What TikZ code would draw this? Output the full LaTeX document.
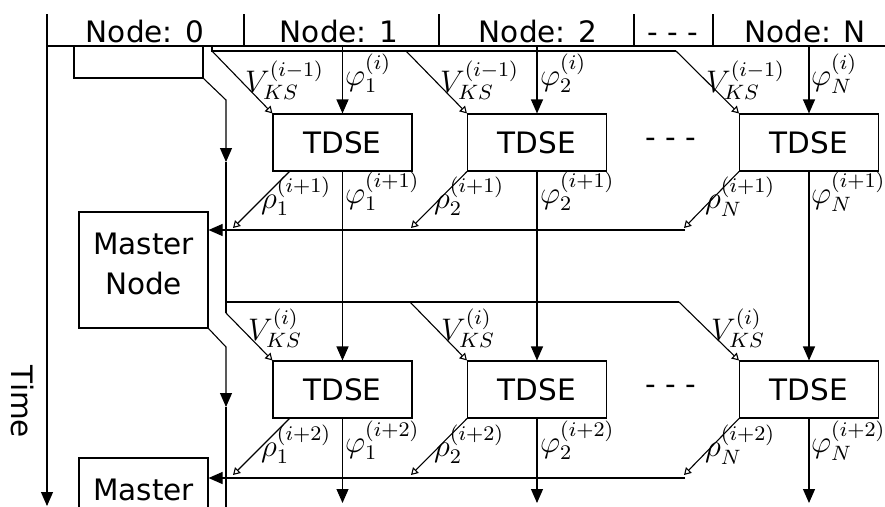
\documentclass[tikz,border=0pt]{standalone}
\usepackage[no-math]{fontspec}
\usepackage{graphicx}
\newfontfamily\dv{DejaVu Sans}
\usetikzlibrary{arrows.meta}
\newcommand{\mlab}[1]{\scalebox{2.6}{\fontsize{12}{14}\selectfont$#1$}}
\begin{document}
\begin{tikzpicture}[x=1pt,y=-1pt,
  ln/.style={line width=1.1pt},
  sans/.style={font=\dv\fontsize{29.5}{40}\selectfont},
  box/.style={draw, line width=1.1pt, sans, minimum width=139pt, minimum height=57pt, inner sep=0pt},
  mbox/.style={draw, line width=1.1pt, minimum width=129pt, minimum height=116pt, inner sep=0pt},
  lab/.style={inner sep=0pt},
  fa/.style={-{Triangle[width=12pt,length=14pt]}},
  oa/.style={-{Triangle[open,width=8pt,length=7pt]}},
]
\useasboundingbox (0,0) rectangle (885,506);
\clip (0,0) rectangle (885,506);
% time axis and header
\coordinate (tA) at (47,14);
\coordinate (tB) at (47,506);
\draw[ln,fa] (tA) -- (tB);
\node[sans, rotate=-90] (time) at (22,402) {Time};
\coordinate (hl) at (47,46);
\coordinate (hr) at (885,46);
\draw[ln] (hl) -- (hr);
\foreach \x/\n in {244/d1,439/d2,634/d3,713/d4}{
  \coordinate (\n a) at (\x,14);
  \coordinate (\n b) at (\x,46);
  \draw[ln] (\n a) -- (\n b);
}
\node[sans, anchor=base] (h0) at (145,42) {Node: 0};
\node[sans, anchor=base] (h1) at (339,42) {Node: 1};
\node[sans, anchor=base] (h2) at (538,42) {Node: 2};
\node[sans, anchor=base] (hd) at (673,42) {- - -};
\node[sans, anchor=base] (hN) at (805,42) {Node: N};
% previous master box (cut)
\coordinate (m0a) at (74,46);
\coordinate (m0b) at (74,78);
\coordinate (m0c) at (203,78);
\coordinate (m0d) at (203,46);
\draw[ln] (m0a) -- (m0b) -- (m0c) -- (m0d);
% master nodes
\node[mbox] (m1) at (143.5,270) {};
\node[sans, align=center, yshift=6pt] (m1t) at (m1.center) {Master\\Node};
\node[mbox] (m2) at (143.5,516) {};
\node[sans, align=center, yshift=6pt] (m2t) at (m2.center) {Master\\Node};
% TDSE boxes
\foreach \r/\y in {1/142.5,2/389.5}{
  \node[box] (t\r1) at (342.5,\y) {TDSE};
  \node[box] (t\r2) at (537,\y) {TDSE};
  \node[box] (t\r3) at (809,\y) {TDSE};
  \node[sans] (dots\r) at (671,\y) {- - -};
}
% phi inputs from header
\coordinate (p1) at (342.5,46);
\coordinate (p2) at (537,46);
\coordinate (p3) at (809,46);
\coordinate (q1) at (342.5,503);
\coordinate (q2) at (537,503);
\coordinate (q3) at (809,503);
\foreach \c in {1,2,3}{
  \draw[ln,fa] (p\c) -- (t1\c.north);
  \draw[ln,fa] (t1\c.south) -- (t2\c.north);
  \draw[ln,fa] (t2\c.south) -- (q\c);
}
% V distribution row 1
\coordinate (v0) at (212,46);
\coordinate (v1) at (212,51);
\coordinate (v2) at (406,51);
\coordinate (v3) at (676,51);
\draw[ln] (v0) -- (v1) -- (v3);
\draw[ln,oa] (v1) -- (t11.north west);
\draw[ln,oa] (v2) -- (t12.north west);
\draw[ln,oa] (v3) -- (t13.north west);
% node 0 vertical, cycle 1
\coordinate (a1) at (226,100);
\coordinate (a2) at (226,162);
\coordinate (a3) at (226,313);
\draw[ln,fa] (m0c) -- (a1) -- (a2);
\draw[ln] (a2) -- (a3);
\draw[ln,oa] (a3) -- (t21.north west);
% V distribution row 2
\coordinate (w1) at (226,302);
\coordinate (w2) at (410,302);
\coordinate (w3) at (679,302);
\draw[ln] (w1) -- (w3);
\draw[ln,oa] (w2) -- (t22.north west);
\draw[ln,oa] (w3) -- (t23.north west);
% node 0 vertical, cycle 2
\coordinate (b1) at (226,347);
\coordinate (b2) at (226,407);
\coordinate (b3) at (226,510);
\draw[ln,fa] (m1.south east) -- (b1) -- (b2);
\draw[ln] (b2) -- (b3);
% rho gather row 1
\coordinate (s1) at (290,171);
\coordinate (r1) at (233,228);
\coordinate (r2) at (411,228);
\coordinate (r3) at (684,228);
\coordinate (g1) at (685,230);
\draw[ln,oa] (s1) -- (r1);
\draw[ln,oa] (t12.south west) -- (r2);
\draw[ln,oa] (t13.south west) -- (r3);
\draw[ln,fa] (g1) -- (g1 -| m1.east);
% rho gather row 2
\coordinate (s2) at (290,418);
\coordinate (u1) at (233,475);
\coordinate (u2) at (411,475);
\coordinate (u3) at (684,475);
\coordinate (g2) at (685,478);
\draw[ln,oa] (s2) -- (u1);
\draw[ln,oa] (t22.south west) -- (u2);
\draw[ln,oa] (t23.south west) -- (u3);
\draw[ln,fa] (g2) -- (g2 -| m2.east);
% labels row 1
\node[lab, anchor=south west] (lv11) at (245,100) {\mlab{V_{KS}^{(i-1)}}};
\node[lab, anchor=south west] (lv12) at (440,100) {\mlab{V_{KS}^{(i-1)}}};
\node[lab, anchor=south west] (lv13) at (706,100) {\mlab{V_{KS}^{(i-1)}}};
\node[lab, anchor=north west] (lp11) at (345,54) {\mlab{\varphi_1^{(i)}}};
\node[lab, anchor=north west] (lp12) at (540,54) {\mlab{\varphi_2^{(i)}}};
\node[lab, anchor=north west] (lp13) at (811,54) {\mlab{\varphi_N^{(i)}}};
\node[lab, anchor=north west] (lr11) at (261,177) {\mlab{\rho_1^{(i+1)}}};
\node[lab, anchor=north west] (lr12) at (434,177) {\mlab{\rho_2^{(i+1)}}};
\node[lab, anchor=north west] (lr13) at (705,177) {\mlab{\rho_N^{(i+1)}}};
\node[lab, anchor=north west] (lf11) at (345,172) {\mlab{\varphi_1^{(i+1)}}};
\node[lab, anchor=north west] (lf12) at (540,172) {\mlab{\varphi_2^{(i+1)}}};
\node[lab, anchor=north west] (lf13) at (811,172) {\mlab{\varphi_N^{(i+1)}}};
% labels row 2
\node[lab, anchor=south west] (lv21) at (248,348) {\mlab{V_{KS}^{(i)}}};
\node[lab, anchor=south west] (lv22) at (441,348) {\mlab{V_{KS}^{(i)}}};
\node[lab, anchor=south west] (lv23) at (711,348) {\mlab{V_{KS}^{(i)}}};
\node[lab, anchor=north west] (lr21) at (261,425) {\mlab{\rho_1^{(i+2)}}};
\node[lab, anchor=north west] (lr22) at (434,425) {\mlab{\rho_2^{(i+2)}}};
\node[lab, anchor=north west] (lr23) at (705,425) {\mlab{\rho_N^{(i+2)}}};
\node[lab, anchor=north west] (lf21) at (345,421) {\mlab{\varphi_1^{(i+2)}}};
\node[lab, anchor=north west] (lf22) at (540,421) {\mlab{\varphi_2^{(i+2)}}};
\node[lab, anchor=north west] (lf23) at (811,421) {\mlab{\varphi_N^{(i+2)}}};
\end{tikzpicture}
\end{document}
